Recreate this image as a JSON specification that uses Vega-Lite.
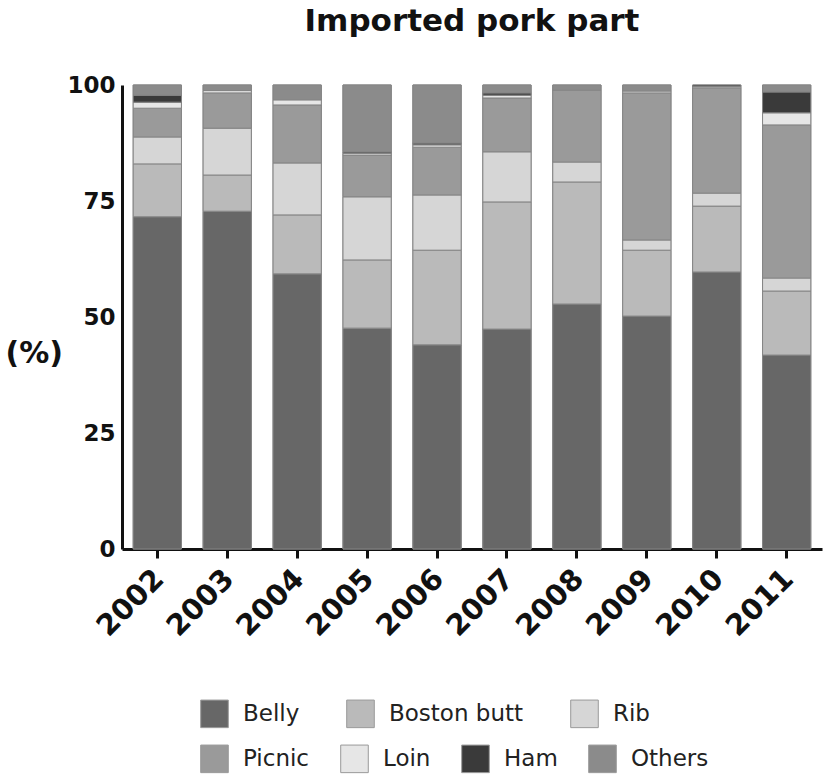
{
  "$schema": "https://vega.github.io/schema/vega-lite/v6.json",
  "autosize": "none",
  "width": 700,
  "height": 464,
  "padding": {"left": 122, "top": 85, "right": 5, "bottom": 229},
  "background": "white",
  "title": {"text": "Imported pork part", "font": "DejaVu Sans", "fontSize": 31, "fontWeight": "bold", "color": "#111", "anchor": "middle", "offset": 36},
  "config": {"view": {"stroke": null}, "font": "DejaVu Sans"},
  "data": {"values": [
    {"year": "2002", "part": "Belly", "value": 71.6},
    {"year": "2002", "part": "Boston butt", "value": 11.4},
    {"year": "2002", "part": "Rib", "value": 5.8},
    {"year": "2002", "part": "Picnic", "value": 6.2},
    {"year": "2002", "part": "Loin", "value": 1.3},
    {"year": "2002", "part": "Ham", "value": 1.5},
    {"year": "2002", "part": "Others", "value": 2.2},
    {"year": "2003", "part": "Belly", "value": 72.8},
    {"year": "2003", "part": "Boston butt", "value": 7.8},
    {"year": "2003", "part": "Rib", "value": 10.1},
    {"year": "2003", "part": "Picnic", "value": 7.6},
    {"year": "2003", "part": "Loin", "value": 0.5},
    {"year": "2003", "part": "Others", "value": 1.2},
    {"year": "2004", "part": "Belly", "value": 59.3},
    {"year": "2004", "part": "Boston butt", "value": 12.7},
    {"year": "2004", "part": "Rib", "value": 11.2},
    {"year": "2004", "part": "Picnic", "value": 12.5},
    {"year": "2004", "part": "Loin", "value": 1.1},
    {"year": "2004", "part": "Others", "value": 3.2},
    {"year": "2005", "part": "Belly", "value": 47.6},
    {"year": "2005", "part": "Boston butt", "value": 14.7},
    {"year": "2005", "part": "Rib", "value": 13.6},
    {"year": "2005", "part": "Picnic", "value": 9.0},
    {"year": "2005", "part": "Loin", "value": 0.4},
    {"year": "2005", "part": "Ham", "value": 0.3},
    {"year": "2005", "part": "Others", "value": 14.4},
    {"year": "2006", "part": "Belly", "value": 44.0},
    {"year": "2006", "part": "Boston butt", "value": 20.4},
    {"year": "2006", "part": "Rib", "value": 11.9},
    {"year": "2006", "part": "Picnic", "value": 10.3},
    {"year": "2006", "part": "Loin", "value": 0.5},
    {"year": "2006", "part": "Ham", "value": 0.4},
    {"year": "2006", "part": "Others", "value": 12.5},
    {"year": "2007", "part": "Belly", "value": 47.4},
    {"year": "2007", "part": "Boston butt", "value": 27.4},
    {"year": "2007", "part": "Rib", "value": 10.8},
    {"year": "2007", "part": "Picnic", "value": 11.6},
    {"year": "2007", "part": "Loin", "value": 0.6},
    {"year": "2007", "part": "Ham", "value": 0.5},
    {"year": "2007", "part": "Others", "value": 1.7},
    {"year": "2008", "part": "Belly", "value": 52.8},
    {"year": "2008", "part": "Boston butt", "value": 26.3},
    {"year": "2008", "part": "Rib", "value": 4.3},
    {"year": "2008", "part": "Picnic", "value": 15.5},
    {"year": "2008", "part": "Others", "value": 1.1},
    {"year": "2009", "part": "Belly", "value": 50.2},
    {"year": "2009", "part": "Boston butt", "value": 14.2},
    {"year": "2009", "part": "Rib", "value": 2.2},
    {"year": "2009", "part": "Picnic", "value": 31.7},
    {"year": "2009", "part": "Loin", "value": 0.4},
    {"year": "2009", "part": "Others", "value": 1.3},
    {"year": "2010", "part": "Belly", "value": 59.7},
    {"year": "2010", "part": "Boston butt", "value": 14.2},
    {"year": "2010", "part": "Rib", "value": 2.8},
    {"year": "2010", "part": "Picnic", "value": 22.7},
    {"year": "2010", "part": "Loin", "value": 0.3},
    {"year": "2010", "part": "Ham", "value": 0.3},
    {"year": "2011", "part": "Belly", "value": 41.8},
    {"year": "2011", "part": "Boston butt", "value": 13.8},
    {"year": "2011", "part": "Rib", "value": 2.8},
    {"year": "2011", "part": "Picnic", "value": 33.0},
    {"year": "2011", "part": "Loin", "value": 2.6},
    {"year": "2011", "part": "Ham", "value": 4.5},
    {"year": "2011", "part": "Others", "value": 1.5}
  ]},
  "transform": [
    {"calculate": "indexof(['Belly', 'Boston butt', 'Rib', 'Picnic', 'Loin', 'Ham', 'Others'], datum.part)", "as": "stackOrder"}
  ],
  "encoding": {
    "x": {
      "field": "year", "type": "nominal",
      "scale": {"paddingInner": 0.31, "paddingOuter": 0.16},
      "axis": {
        "title": null, "labelAngle": -45, "labelFont": "DejaVu Sans", "labelFontSize": 29, "labelFontWeight": "bold", "labelColor": "#111",
        "domainColor": "#111", "domainWidth": 3, "tickColor": "#111", "tickWidth": 3, "tickSize": 9, "labelPadding": 6, "labelOffset": -8
      }
    },
    "y": {
      "field": "value", "type": "quantitative", "stack": "zero",
      "scale": {"domain": [0, 100]},
      "axis": {
        "values": [0, 25, 50, 75, 100], "grid": false,
        "title": "(%)", "titleAngle": 0, "titleFont": "DejaVu Sans", "titleFontSize": 30, "titleFontWeight": "bold", "titleColor": "#111",
        "titleAlign": "left", "titleX": -117, "titleY": 268, "titleBaseline": "middle",
        "labelFont": "DejaVu Sans", "labelFontSize": 23, "labelFontWeight": "bold", "labelColor": "#111", "labelPadding": 7,
        "domainColor": "#111", "domainWidth": 3, "tickColor": "#111", "tickWidth": 3, "tickSize": 0
      }
    },
    "order": {"field": "stackOrder", "type": "quantitative", "sort": "ascending"}
  },
  "layer": [
    {
      "mark": {"type": "bar", "stroke": "#858585", "strokeWidth": 1},
      "encoding": {
        "color": {
          "field": "part", "type": "nominal",
          "scale": {
            "domain": ["Belly", "Boston butt", "Rib", "Picnic", "Loin", "Ham", "Others"],
            "range": ["#676767", "#bababa", "#d6d6d6", "#9a9a9a", "#e6e6e6", "#3a3a3a", "#8b8b8b"]
          },
          "legend": {
            "title": null, "orient": "none", "legendX": 78, "legendY": 614, "columns": 3, "direction": "horizontal",
            "values": ["Belly", "Boston butt", "Rib"],
            "symbolType": "square", "symbolSize": 760, "symbolStrokeColor": "#999", "symbolStrokeWidth": 1,
            "labelFont": "DejaVu Sans", "labelFontSize": 23, "labelColor": "#222", "labelOffset": 14,
            "columnPadding": 44
          }
        }
      }
    },
    {
      "mark": {"type": "bar", "stroke": "#858585", "strokeWidth": 1},
      "encoding": {
        "fill": {
          "field": "part", "type": "nominal",
          "scale": {
            "domain": ["Picnic", "Loin", "Ham", "Others", "Belly", "Boston butt", "Rib"],
            "range": ["#9a9a9a", "#e6e6e6", "#3a3a3a", "#8b8b8b", "#676767", "#bababa", "#d6d6d6"]
          },
          "legend": {
            "title": "", "orient": "none", "legendX": 78, "legendY": 659, "columns": 4, "direction": "horizontal",
            "values": ["Picnic", "Loin", "Ham", "Others"],
            "symbolType": "square", "symbolSize": 760, "symbolStrokeColor": "#999", "symbolStrokeWidth": 1,
            "labelFont": "DejaVu Sans", "labelFontSize": 23, "labelColor": "#222", "labelOffset": 14,
            "columnPadding": 28
          }
        }
      }
    }
  ],
  "resolve": {"scale": {"color": "independent", "fill": "independent"}, "legend": {"color": "independent", "fill": "independent"}}
}
